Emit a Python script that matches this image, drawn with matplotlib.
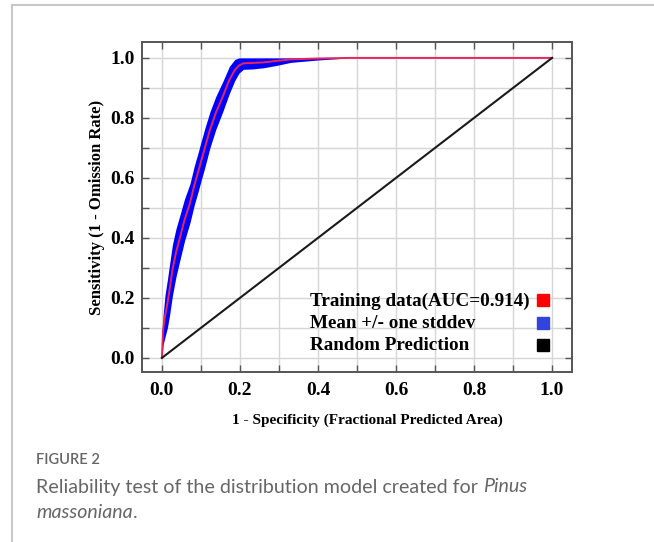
import matplotlib
matplotlib.use("Agg")
import matplotlib.pyplot as plt
import numpy as np
from matplotlib.lines import Line2D

# ---- data ----
fpr = [0.0, 0.003, 0.008, 0.014, 0.020, 0.027, 0.036, 0.046, 0.058, 0.072,
       0.083, 0.093, 0.099, 0.110, 0.123, 0.138, 0.156, 0.173, 0.187, 0.198,
       0.209, 0.230, 0.260, 0.294, 0.330, 0.400, 0.480, 0.500, 1.0]
mean_sens = [0.0, 0.093, 0.14, 0.18, 0.23, 0.293, 0.35, 0.40, 0.46, 0.516,
             0.575, 0.62, 0.649, 0.70, 0.76, 0.816, 0.871, 0.927, 0.96, 0.975,
             0.982, 0.983, 0.985, 0.99, 0.995, 0.998, 1.0, 1.0, 1.0]
sd_sens = [0.0, 0.05, 0.07, 0.08, 0.085, 0.085, 0.08, 0.075, 0.07, 0.065,
           0.065, 0.065, 0.065, 0.065, 0.06, 0.055, 0.05, 0.045, 0.035, 0.025,
           0.02, 0.02, 0.018, 0.015, 0.01, 0.005, 0.0, 0.0, 0.0]
random_x = [0.0, 1.0]
random_y = [0.0, 1.0]
labels = ["Training data(AUC=0.914)", "Mean +/- one stddev", "Random Prediction"]
legend_colors = ["#ff0000", "#3344dd", "#000000"]
major_ticks = [0.0, 0.2, 0.4, 0.6, 0.8, 1.0]
minor_ticks = [0.1, 0.3, 0.5, 0.7, 0.9]

fpr = np.array(fpr)
m = np.array(mean_sens)
s = np.array(sd_sens)

serif = ["Liberation Serif", "DejaVu Serif"]

fig = plt.figure(figsize=(6.54, 5.42), dpi=100)
ax = fig.add_axes([142/654, 170/542, 430/654, 330/542])

ax.fill_between(fpr, np.maximum(m - s, 0), np.minimum(m + s, 1.0),
                color="#0000ff", lw=0, zorder=2)
ax.plot(fpr, m, color="#e8245a", lw=1.4, zorder=3)
ax.plot(random_x, random_y, color="#1a1a1a", lw=1.5, zorder=3)

ax.set_xlim(-0.051, 1.051)
ax.set_ylim(-0.047, 1.053)
ax.set_xticks(major_ticks)
ax.set_yticks(major_ticks)
ax.set_xticks(minor_ticks, minor=True)
ax.set_yticks(minor_ticks, minor=True)
ax.set_xticklabels([f"{v:.1f}" for v in major_ticks])
ax.set_yticklabels([f"{v:.1f}" for v in major_ticks])
ax.grid(True, which="both", color="#d6d6d6", lw=1.0, zorder=0)
ax.set_axisbelow(True)
ax.tick_params(which="both", direction="in", top=True, right=True,
               length=5, width=1.0, color="#555555")
ax.tick_params(axis="x", which="major", pad=7)
ax.tick_params(axis="y", which="major", pad=5)
for lab in ax.get_xticklabels() + ax.get_yticklabels():
    lab.set_fontfamily(serif)
    lab.set_fontweight("bold")
    lab.set_fontsize(14)
for sp in ax.spines.values():
    sp.set_color("#555555")
    sp.set_linewidth(1.4)

ax.set_xlabel("1 - Specificity (Fractional Predicted Area)", fontfamily=serif,
              fontweight="bold", fontsize=11, labelpad=10)
ax.set_ylabel("Sensitivity (1 - Omission Rate)", fontfamily=serif,
              fontweight="bold", fontsize=12, labelpad=4)
ax.xaxis.set_label_coords(0.525, -0.125)

# legend: left-aligned labels with a column of coloured squares on the right
leg_rows_y = [0.215, 0.147, 0.079]
for lab, col, yy in zip(labels, legend_colors, leg_rows_y):
    ax.text(0.391, yy, lab, transform=ax.transAxes, fontfamily=serif,
            fontweight="bold", fontsize=13.8, va="center", ha="left", zorder=5)
    ax.plot([0.933], [yy + 0.002], marker="s", markersize=8, color=col,
            linestyle="none", transform=ax.transAxes, zorder=5, clip_on=False)

# outer frame lines
fig.add_artist(Line2D([12/654, 1.0], [1 - 5/542, 1 - 5/542],
                      color="#c8c8c8", lw=1.5, transform=fig.transFigure))
fig.add_artist(Line2D([12/654, 12/654], [0, 1 - 5/542],
                      color="#c8c8c8", lw=1.5, transform=fig.transFigure))

# caption
cap_font = ["Lato", "DejaVu Sans"]
fig.text(36/654, 1 - 460/542, "FIGURE 2", fontfamily=cap_font, fontsize=10.5,
         fontweight="semibold", color="#666666", va="center", ha="left")
t1 = fig.text(36/654, 1 - 487/542, "Reliability test of the distribution model created for ",
              fontfamily=cap_font, fontsize=14.1, color="#666666", va="center", ha="left")
fig.canvas.draw()
bb = t1.get_window_extent()
fig.text(bb.x1 / fig.bbox.width, 1 - 487/542, "Pinus", fontfamily=cap_font,
         fontsize=14.1, style="italic", color="#666666", va="center", ha="left")
t3 = fig.text(36/654, 1 - 513/542, "massoniana", fontfamily=cap_font, fontsize=14.1,
              style="italic", color="#666666", va="center", ha="left")
fig.canvas.draw()
bb3 = t3.get_window_extent()
fig.text(bb3.x1 / fig.bbox.width, 1 - 513/542, ".", fontfamily=cap_font,
         fontsize=14.1, color="#666666", va="center", ha="left")

fig.savefig("out.png", dpi=100)
